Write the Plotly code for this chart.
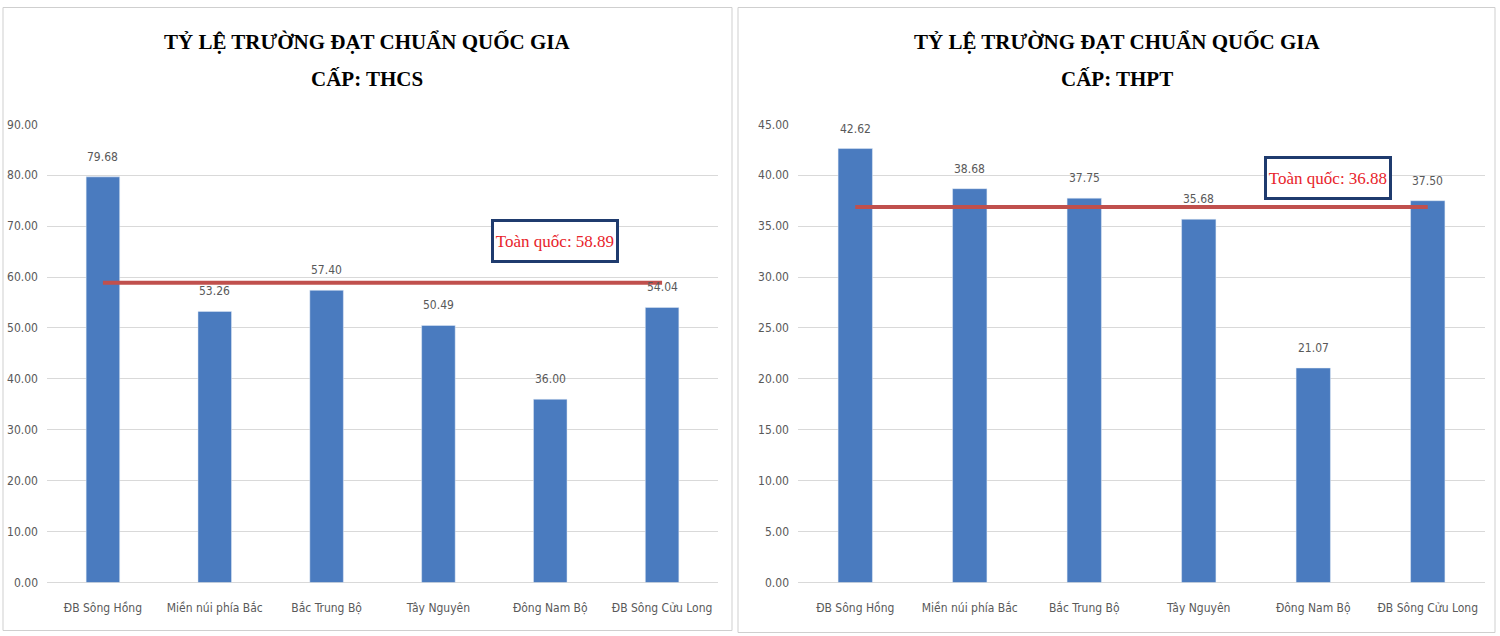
import plotly.graph_objects as go

# Data
regions = ["ĐB Sông Hồng", "Miền núi phía Bắc", "Bắc Trung Bộ",
           "Tây Nguyên", "Đông Nam Bộ", "ĐB Sông Cửu Long"]
thcs_rates = [79.68, 53.26, 57.40, 50.49, 36.00, 54.04]
thpt_rates = [42.62, 38.68, 37.75, 35.68, 21.07, 37.50]
thcs_national = 58.89
thpt_national = 36.88

title_main = "TỶ LỆ TRƯỜNG ĐẠT CHUẨN QUỐC GIA"
levels = ["CẤP: THCS", "CẤP: THPT"]

bar_color = "#4a7bbf"
line_color = "#c0504d"
grid_color = "#d9d9d9"
label_font = dict(family="Liberation Sans Narrow, DejaVu Sans Condensed, Liberation Sans",
                  size=12, color="#595959")
serif = "Liberation Serif, Times New Roman, serif"

W, H = 1500, 636


def px_x(x):
    return x / W


def px_y(y):
    # the capture comes out slightly squeezed vertically, so map target pixels
    return 1 - (y - 5.5) / 623


fig = go.Figure()

annotations = []
# bars + national average line, one set per panel
for i, (vals, avg) in enumerate([(thcs_rates, thcs_national), (thpt_rates, thpt_national)]):
    xa = "x" if i == 0 else "x2"
    ya = "y" if i == 0 else "y2"
    fig.add_trace(go.Bar(
        x=regions, y=vals, xaxis=xa, yaxis=ya,
        marker_color=bar_color, width=0.3,
        showlegend=False,
    ))
    fig.add_trace(go.Scatter(
        x=regions, y=[avg] * len(regions), xaxis=xa, yaxis=ya,
        mode="lines", line=dict(color=line_color, width=4),
        showlegend=False, hoverinfo="skip",
    ))
    # value labels sit a bit above the bar, Excel style
    for r, v in zip(regions, vals):
        annotations.append(dict(
            xref=xa, yref=ya, x=r, y=v, yshift=20, showarrow=False,
            text=f"{v:.2f}", font=label_font,
        ))

axis_common = dict(showgrid=False, showline=False, zeroline=False,
                   tickfont=label_font, ticks="", fixedrange=True,
                   ticklabelstandoff=16)
yaxis_common = dict(showgrid=True, gridcolor=grid_color, gridwidth=1,
                    zeroline=True, zerolinecolor=grid_color, zerolinewidth=1,
                    showline=False, tickformat=".2f", tickfont=label_font,
                    ticks="", ticklen=0, fixedrange=True, ticklabelstandoff=8)

y_dom = [px_y(582), px_y(123)]
fig.update_layout(
    width=W, height=H,
    margin=dict(l=0, r=0, t=0, b=0),
    paper_bgcolor="white", plot_bgcolor="white",
    bargap=0.7,
    xaxis=dict(domain=[px_x(47), px_x(718)], anchor="y", **axis_common),
    yaxis=dict(domain=y_dom, range=[0, 90], dtick=10, anchor="x", **yaxis_common),
    xaxis2=dict(domain=[px_x(798), px_x(1485)], anchor="y2", **axis_common),
    yaxis2=dict(domain=y_dom, range=[0, 45], dtick=5, anchor="x2", **yaxis_common),
)

# chart frames like the Excel chart areas
shapes = [
    dict(type="rect", xref="paper", yref="paper", x0=px_x(3), x1=px_x(732),
         y0=px_y(630), y1=px_y(6), line=dict(color="#cfcfcf", width=1), layer="below"),
    dict(type="rect", xref="paper", yref="paper", x0=px_x(738), x1=px_x(1495),
         y0=px_y(632), y1=px_y(6), line=dict(color="#cfcfcf", width=1), layer="below"),
]
fig.update_layout(shapes=shapes)

# two-line titles, each line placed on its own to get Excel's wider spacing
for cx, level in zip([367, 1117], levels):
    for line_text, cy in [(title_main, 41), (level, 78)]:
        annotations.append(dict(
            xref="paper", yref="paper", x=px_x(cx), y=px_y(cy),
            xanchor="center", yanchor="middle", showarrow=False,
            text=f"<b>{line_text}</b>",
            font=dict(family=serif, size=21, color="black"),
        ))

boxes = [(555, 240, thcs_national), (1328, 177, thpt_national)]
for cx, cy, avg in boxes:
    annotations.append(dict(
        xref="paper", yref="paper", x=px_x(cx), y=px_y(cy),
        xanchor="center", yanchor="middle", showarrow=False,
        text=f"Toàn quốc: {avg:.2f}",
        font=dict(family=serif, size=17, color="#e8242b"),
        bgcolor="white", bordercolor="#1f3b6e", borderwidth=3,
        width=120, height=36,
    ))
fig.update_layout(annotations=annotations)

# drop the page margin so the figure sits at the window's corner
fig.write_html("out.html", config={"displayModeBar": False},
               post_script="document.body.style.margin='0';document.body.style.overflow='hidden';")
